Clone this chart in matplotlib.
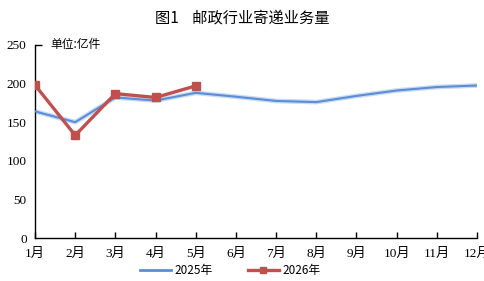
import matplotlib
matplotlib.use('Agg')
import matplotlib.pyplot as plt
from matplotlib.lines import Line2D

# data (亿件)
months = ['1月', '2月', '3月', '4月', '5月', '6月', '7月', '8月', '9月', '10月', '11月', '12月']
vol_2025 = [164, 150, 182, 178, 188, 183, 177.5, 176, 184, 191, 195.5, 197.5]
vol_2026 = [198, 133, 187, 182, 197]
yticks = [0, 50, 100, 150, 200, 250]

serif = ['Liberation Serif', 'Noto Sans CJK SC']
sans = ['Noto Sans CJK SC', 'DejaVu Sans']

fig = plt.figure(figsize=(4.85, 2.81), dpi=100)
ax = fig.add_axes([0.0722, 0.153, 0.9113, 0.687])

x = list(range(len(months)))
# blue line with a soft glow like the excel original
ax.plot(x, vol_2025, color='#C9DBF4', lw=3.4, zorder=2)
ax.plot(x, vol_2025, color='#5A8ED6', lw=1.5, zorder=3)
ax.plot(x[:len(vol_2026)], vol_2026, color='#C0504D', lw=2.4, marker='s',
        markersize=6, zorder=4)

ax.set_xlim(0, len(months) - 1)
ax.set_ylim(0, 250)
ax.set_yticks(yticks)
ax.set_xticks(x)
ax.set_xticklabels(months)
for s in ['top', 'right']:
    ax.spines[s].set_visible(False)
for s in ['left', 'bottom']:
    ax.spines[s].set_linewidth(1.0)
    ax.spines[s].set_color('black')
ax.tick_params(axis='x', direction='in', length=4, width=1, pad=7)
ax.tick_params(axis='y', length=0, pad=6)
# small cap at the top of the y axis
ax.yaxis.remove_overlapping_locs = False
ax.set_yticks([250], minor=True)
ax.tick_params(axis='y', which='minor', direction='in', length=5, width=1)
for lab in ax.get_xticklabels() + ax.get_yticklabels():
    lab.set_family(serif)
    lab.set_fontsize(9.5)

fig.text(0.5, 0.935, '图1    邮政行业寄递业务量', ha='center', va='center',
         family=sans, fontsize=11, weight='medium')
ax.text(0.035, 1.0, '单位:亿件', transform=ax.transAxes, family=sans,
        fontsize=8.5, va='center', ha='left')

handles = [Line2D([], [], color='#5A8ED6', lw=2),
           Line2D([], [], color='#C0504D', lw=2.4, marker='s', markersize=5)]
fig.legend(handles, ['2025年', '2026年'], loc='lower center',
           bbox_to_anchor=(0.475, -0.025), ncol=2, frameon=False,
           prop={'family': sans, 'size': 8.5}, handlelength=2.6,
           handletextpad=0.3, columnspacing=3.0, numpoints=1)

fig.savefig('out.png', dpi=100)
